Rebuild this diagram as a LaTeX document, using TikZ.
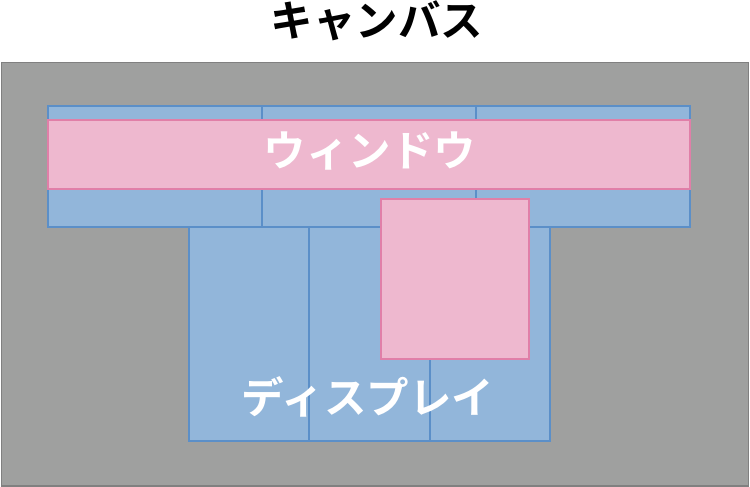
\documentclass[tikz,border=0pt]{standalone}
\usepackage{fontspec}
\newfontfamily\cjk{Noto Sans CJK JP}[BoldFont={Noto Sans CJK JP Bold}]
\definecolor{canvasfill}{HTML}{9FA09F}
\definecolor{canvasline}{HTML}{808080}
\definecolor{bluefill}{HTML}{92B6DA}
\definecolor{blueline}{HTML}{5B8FC8}
\definecolor{pinkfill}{HTML}{EEB8CF}
\definecolor{pinkline}{HTML}{E07FA8}
\tikzset{
  canvasbox/.style={draw=canvasline,fill=canvasfill,line width=1.5pt},
  bluebox/.style={draw=blueline,fill=bluefill,line width=1.2pt},
  pinkbox/.style={draw=pinkline,fill=pinkfill,line width=1.2pt},
  lbl/.style={font=\cjk\bfseries\fontsize{42.5}{48}\selectfont,inner sep=0pt},
}
\begin{document}
\begin{tikzpicture}[x=1pt,y=-1pt]
\useasboundingbox (0,0) rectangle (750,487);
\draw[canvasbox] (1.5,62.5) rectangle (748.5,486);
% top blue row
\draw[bluebox] (48,106) rectangle (262,227);
\draw[bluebox] (262,106) rectangle (476,227);
\draw[bluebox] (476,106) rectangle (690,227);
% lower blue
\draw[bluebox] (189,227) rectangle (309,441);
\draw[bluebox] (309,227) rectangle (430,441);
\draw[bluebox] (430,227) rectangle (550,441);
% pink
\draw[pinkbox] (48,120) rectangle (690,189);
\draw[pinkbox] (381,199) rectangle (529,359);
\node[lbl,text=black] (title) at (377,21) {キャンバス};
\node[lbl,text=white] (win) at (370,151) {ウィンドウ};
\node[lbl,text=white] (disp) at (368,397) {ディスプレイ};
\end{tikzpicture}
\end{document}
